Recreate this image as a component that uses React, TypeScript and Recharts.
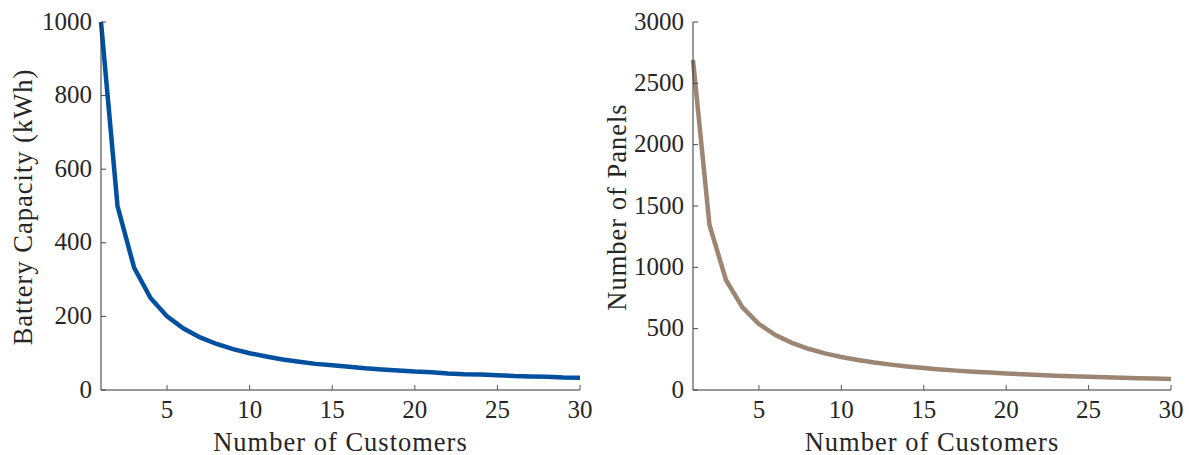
import { LineChart, Line, XAxis, YAxis } from "recharts";

const customers = [
  1, 2, 3, 4, 5, 6, 7, 8, 9, 10, 11, 12, 13, 14, 15, 16, 17, 18, 19, 20, 21,
  22, 23, 24, 25, 26, 27, 28, 29, 30,
];
const batteryKWh = [
  1000, 500, 333, 250, 200, 167, 143, 125, 111, 100, 91, 83, 77, 71, 67, 63,
  59, 56, 53, 50, 48, 45, 43, 42, 40, 38, 37, 36, 34, 33,
];
const panels = [
  2690, 1345, 897, 673, 538, 448, 384, 336, 299, 269, 245, 224, 207, 192, 179,
  168, 158, 149, 142, 135, 128, 122, 117, 112, 108, 103, 100, 96, 93, 90,
];
const xTicks = [5, 10, 15, 20, 25, 30];
const batteryTicks = [0, 200, 400, 600, 800, 1000];
const panelTicks = [0, 500, 1000, 1500, 2000, 2500, 3000];

const leftData = customers.map((n, i) => ({ n, v: batteryKWh[i] }));
const rightData = customers.map((n, i) => ({ n, v: panels[i] }));

const FONT = "'Liberation Serif', 'DejaVu Serif', serif";
const INK = "#262626";
const M = 10;

function XTick(props: any) {
  const { x, y, payload } = props;
  const ay = y - M;
  return (
    <g>
      <line x1={x} y1={ay} x2={x} y2={ay - 5} stroke="#555" strokeWidth={1} />
      <text x={x} y={ay + 28} textAnchor="middle" fill={INK} fontSize={25} fontFamily={FONT}>
        {payload.value}
      </text>
    </g>
  );
}

function YTick(props: any) {
  const { x, y, payload } = props;
  const ax = x + M;
  return (
    <g>
      <line x1={ax} y1={y} x2={ax + 5} y2={y} stroke="#444" strokeWidth={1} />
      <text x={ax - 9} y={y + 7.5} textAnchor="end" fill={INK} fontSize={25} fontFamily={FONT}>
        {payload.value}
      </text>
    </g>
  );
}

function Panel(props: {
  data: { n: number; v: number }[];
  width: number;
  yWidth: number;
  right: number;
  ticks: number[];
  max: number;
  color: string;
  yLabel: string;
  yLabelX: number;
  yLabelSpacing: number;
}) {
  const { data, width, yWidth, right, ticks, max, color, yLabel, yLabelX, yLabelSpacing } = props;
  const plotCenterX = yWidth + (width - yWidth - right) / 2;
  return (
    <div style={{ position: "relative", width, height: 455 }}>
      <LineChart
        width={width}
        height={455}
        data={data}
        margin={{ top: 22, right, bottom: 0, left: 0 }}
      >
        <XAxis
          dataKey="n"
          type="number"
          domain={[1, 30]}
          ticks={xTicks}
          height={65}
          tickSize={0}
          tickMargin={M}
          tickLine={false}
          axisLine={{ stroke: "#777", strokeWidth: 1.5 }}
          tick={<XTick />}
          interval={0}
        />
        <YAxis
          type="number"
          domain={[0, max]}
          ticks={ticks}
          width={yWidth}
          tickSize={0}
          tickMargin={M}
          tickLine={false}
          axisLine={{ stroke: "#333", strokeWidth: 1 }}
          tick={<YTick />}
          interval={0}
        />
        <Line
          type="linear"
          dataKey="v"
          stroke={color}
          strokeWidth={4.5}
          dot={false}
          isAnimationActive={false}
        />
      </LineChart>
      <div
        style={{
          position: "absolute",
          left: plotCenterX - 200,
          width: 400,
          top: 427,
          textAlign: "center",
          fontFamily: FONT,
          fontSize: 26.5,
          letterSpacing: 1,
          color: INK,
          lineHeight: "30px",
          whiteSpace: "nowrap",
        }}
      >
        Number of Customers
      </div>
      <div
        style={{
          position: "absolute",
          left: yLabelX - 200,
          top: 207 - 15,
          width: 400,
          height: 30,
          lineHeight: "30px",
          textAlign: "center",
          transform: "rotate(-90deg)",
          fontFamily: FONT,
          fontSize: 26.5,
          letterSpacing: yLabelSpacing,
          color: INK,
          whiteSpace: "nowrap",
        }}
      >
        {yLabel}
      </div>
    </div>
  );
}

export default function App() {
  return (
    <div
      style={{
        position: "absolute",
        left: 0,
        top: 0,
        width: 1189,
        height: 455,
        background: "#fff",
        display: "flex",
      }}
    >
      <Panel
        data={leftData}
        width={600}
        yWidth={101}
        right={20}
        ticks={batteryTicks}
        max={1000}
        color="#0050A0"
        yLabel="Battery Capacity (kWh)"
        yLabelX={23}
        yLabelSpacing={1}
      />
      <Panel
        data={rightData}
        width={589}
        yWidth={93}
        right={18}
        ticks={panelTicks}
        max={3000}
        color="#9C8572"
        yLabel="Number of Panels"
        yLabelX={17}
        yLabelSpacing={1}
      />
    </div>
  );
}
